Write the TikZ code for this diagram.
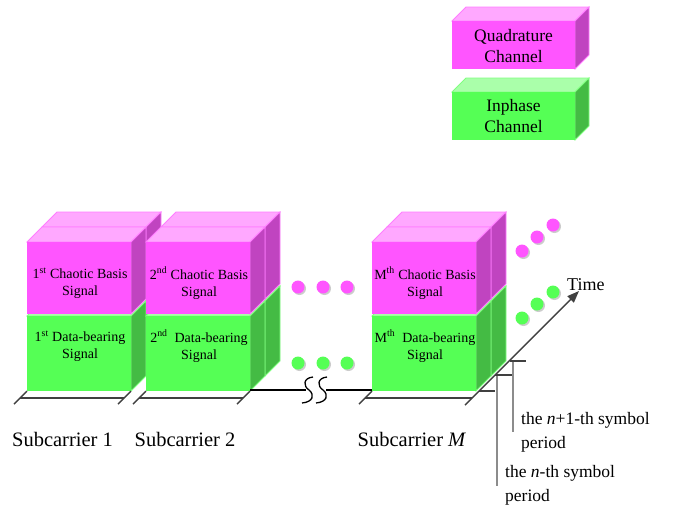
\documentclass[tikz,border=0pt]{standalone}
\usepackage{fontspec}
\setmainfont{Liberation Serif}
\usetikzlibrary{arrows.meta}

\definecolor{magfront}{HTML}{FF55FF}
\definecolor{magtop}{HTML}{FFA8FF}
\definecolor{magside}{HTML}{C044C0}
\definecolor{magedge}{HTML}{FF7CFF}
\definecolor{grnfront}{HTML}{55FF55}
\definecolor{grntop}{HTML}{AAFFAA}
\definecolor{grnside}{HTML}{44BB44}
\definecolor{grnedge}{HTML}{80FF80}

% front top-left corner, width, height, depth, colour set
\newcommand{\drawcube}[6]{%
	\filldraw[fill=#6top, draw=#6edge, line width=0.8pt] (#1,#2) -- ++(#5,-#5) -- ++(#3,0) -- ++(-#5,#5) -- cycle;
	\filldraw[fill=#6side, draw=#6edge, line width=0.8pt] (#1+#3,#2) -- ++(#5,-#5) -- ++(0,#4) -- ++(-#5,#5) -- cycle;
	\fill[#6front] (#1,#2) rectangle ++(#3,#4);
}

% two symbol periods of one subcarrier
\newcommand{\carrierblock}[1]{%
	\drawcube{#1+15}{301}{104}{75}{15}{grn}
	\drawcube{#1+15}{227}{104}{72}{15}{mag}
	\drawcube{#1}{316}{104}{75}{15}{grn}
	\drawcube{#1}{242}{104}{72}{15}{mag}
}

\begin{document}
\begin{tikzpicture}[x=1pt, y=-1pt,
		floor/.style={draw=black!75, line width=1.4pt},
		period/.style={draw=black!45, line width=1.2pt},
		legendtext/.style={inner sep=0pt, align=center, font=\fontsize{17.5}{21}\selectfont},
		celltext/.style={inner sep=0pt, align=center, font=\fontsize{14}{17}\selectfont},
		captext/.style={inner sep=0pt, font=\fontsize{20.5}{24}\selectfont},
		periodtext/.style={inner sep=0pt, align=left, font=\fontsize{17.5}{24}\selectfont}]
	\useasboundingbox (0,0) rectangle (676,512);

	\drawcube{452}{21}{123}{48}{14}{mag}
	\drawcube{452}{92}{123}{48}{14}{grn}
	\node[legendtext] (quad) at (513.5,46) {Quadrature\\Channel};
	\node[legendtext] (inph) at (513.5,116) {Inphase\\Channel};

	\foreach \x in {27,146,372}
		\carrierblock{\x};

	\node[celltext] (chaos1) at (80,283) {1\textsuperscript{st} Chaotic Basis\\Signal};
	\node[celltext] (data1) at (80,346) {1\textsuperscript{st} Data-bearing\\Signal};
	\node[celltext] (chaos2) at (199,283) {2\textsuperscript{nd} Chaotic Basis\\Signal};
	\node[celltext] (data2) at (199,346) {2\textsuperscript{nd}\ \ Data-bearing\\Signal};
	\node[celltext] (chaosM) at (425,283) {M\textsuperscript{th} Chaotic Basis\\Signal};
	\node[celltext] (dataM) at (425,346) {M\textsuperscript{th}\ \ Data-bearing\\Signal};

	% floor under the subcarriers
	\foreach \x in {27,146} {
		\draw[floor] (\x-13,404) -- (\x,391);
		\draw[floor] (\x+91,404) -- (\x+104,391);
		\draw[floor] (\x-7,398) -- (\x+97,398);
	}
	\draw[floor] (359,404) -- (372,391);
	\draw[floor] (365,398) -- (472,398);

	\draw[line width=1.4pt] (250,390) -- (306,390);
	\draw[line width=1.4pt] (326,390) -- (372,390);
	\draw[line width=1.3pt] (313,377) .. controls (303,378) and (303,386) .. (309,390) .. controls (315,395) and (313,402) .. (302,403);
	\draw[line width=1.3pt] (327,377) .. controls (317,378) and (317,386) .. (323,390) .. controls (329,395) and (327,402) .. (316,403);

	\foreach \x in {298,323,347} {
		\fill[black!20] (\x+1.5,288.5) circle (6.5pt);
		\fill[magfront] (\x,287) circle (6.5pt);
		\fill[black!20] (\x+1.5,364.5) circle (6.5pt);
		\fill[grnfront] (\x,363) circle (6.5pt);
	}
	\foreach \x/\y in {522/251,537/237,553/225} {
		\fill[black!20] (\x+1.5,\y+1.5) circle (6.5pt);
		\fill[magfront] (\x,\y) circle (6.5pt);
		\fill[black!20] (\x+1.5,\y+68.5) circle (6.5pt);
		\fill[grnfront] (\x,\y+67) circle (6.5pt);
	}

	% time axis
	\coordinate (t0) at (465,405);
	\coordinate (t1) at (579,291);
	\draw[floor, -{Triangle[length=12pt,width=9pt]}] (t0) -- (t1);
	\node[captext, font=\fontsize{18}{20}\selectfont, anchor=west] (time) at (567,285) {Time};
	\draw[floor, line width=1.2pt] (479,391) -- (495,391);
	\draw[floor, line width=1.2pt] (495,375) -- (512,375);
	\draw[floor, line width=1.2pt] (510,361) -- (526,361);

	\coordinate (ntop) at (497,376);
	\coordinate (nbot) at (497,486);
	\coordinate (n1top) at (513,362);
	\coordinate (n1bot) at (513,432);
	\draw[period] (ntop) -- (nbot);
	\draw[period] (n1top) -- (n1bot);
	\node[periodtext, anchor=north west] (n1lbl) at (521,412) {the \textit{n}+1-th symbol\\period};
	\node[periodtext, anchor=north west] (nlbl) at (505,465) {the \textit{n}-th symbol\\period};

	\node[captext] (sc1) at (62.5,439) {Subcarrier 1};
	\node[captext] (sc2) at (185,439) {Subcarrier 2};
	\node[captext] (scM) at (412,439) {Subcarrier \textit{M}};
\end{tikzpicture}
\end{document}
